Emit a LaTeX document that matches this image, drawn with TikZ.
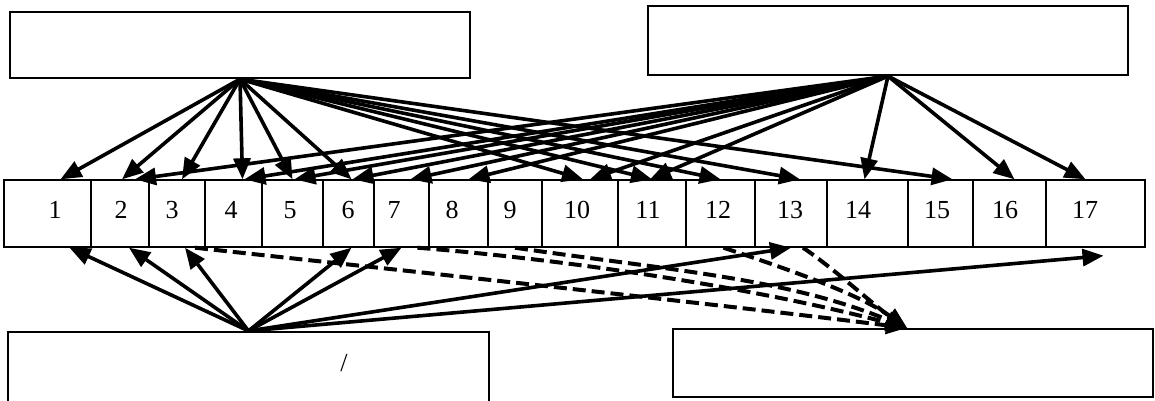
\documentclass[tikz,border=0pt]{standalone}
\usepackage{fontspec}
\setmainfont{Liberation Serif}
\usetikzlibrary{arrows.meta}
\begin{document}
\begin{tikzpicture}[x=1pt,y=-1pt,
  box/.style={draw,line width=2.2pt,inner sep=0pt},
  cell/.style={draw,line width=1.4pt,minimum height=67pt,inner sep=0pt},
  num/.style={font=\fontsize{26}{31}\selectfont,inner sep=0pt},
  arr/.style={line width=3.6pt,-{Triangle[length=21pt,width=17pt]}},
  darr/.style={arr,line width=4pt,dash pattern=on 13pt off 6pt}]
\useasboundingbox (0,0) rectangle (1155,400);
\node[box,minimum width=460pt,minimum height=66pt] (tl) at (240,45) {};
\node[box,minimum width=480pt,minimum height=69pt] (tr) at (888,40.5) {};
\node[box,minimum width=481pt,minimum height=70pt] (bl) at (248.5,367) {};
\node[box,minimum width=480pt,minimum height=68pt] (br) at (913,363) {};
\node[num] (slash) at (344,363) {/};
\foreach \i/\l/\r/\t in {1/4/91/55,2/91/149/121,3/149/205/172,4/205/262/231,
  5/262/323/290,6/323/374/348,7/374/429/394,8/429/488/452,9/488/542/510,
  10/542/618/577,11/618/686/648,12/686/755/718,13/755/827/790,14/827/908/858,
  15/908/973/937,16/973/1046/1005,17/1046/1145/1085}{
  \node[cell,minimum width={(\r-\l)*1pt}] (c\i) at ({(\l+\r)/2},213.5) {};
  \node[num] (n\i) at (\t,210) {\i};
}
\foreach \c/\s in {1/13,2/2,3/5,4/9,5/0,6/3,10/3,11/0,12/0,13/9,15/12}
  \draw[arr] (tl.south) -- ([xshift=\s pt]c\c.north);
\foreach \c/\s in {2/15,4/11,5/2,6/4,7/9,8/10,10/10,11/-2,14/-3,16/5,17/-10}
  \draw[arr] (tr.south) -- ([xshift=\s pt]c\c.north);
\foreach \c/\s in {1/22,2/9,3/8,6/3,7/0,13/0}
  \draw[arr] (bl.north) -- ([xshift=\s pt]c\c.south);
\draw[arr] (bl.north) -- ([xshift=8pt,yshift=-8pt]c17.south);
\draw[darr] ([xshift=18pt]c3.south) .. controls +(200,22) and +(-200,-25) .. ([xshift=-6pt]br.north);
\draw[darr] ([xshift=16pt]c7.south) .. controls +(150,12) and +(-150,-40) .. ([xshift=-6pt]br.north);
\draw[darr] (c9.south) .. controls +(150,22) and +(-120,-50) .. ([xshift=-6pt]br.north);
\draw[darr] ([xshift=3pt]c12.south) .. controls +(60,20) and +(-50,-35) .. ([xshift=-6pt]br.north);
\draw[darr] ([xshift=12pt]c13.south) .. controls +(30,20) and +(-30,-20) .. ([xshift=-6pt]br.north);
\end{tikzpicture}
\end{document}
